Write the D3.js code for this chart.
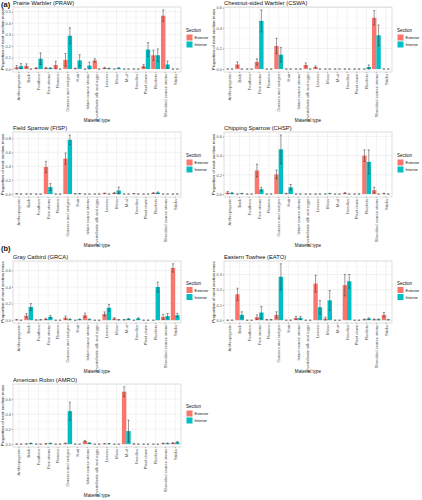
<!DOCTYPE html>
<html><head><meta charset="utf-8">
<script src="https://cdn.jsdelivr.net/npm/d3@7"></script>
<style>body{margin:0;background:#fff}svg{display:block;font-family:"Liberation Sans",Arial,sans-serif}</style>
</head><body><svg id="c" width="422" height="500"></svg>
<script>
const categories = ["Anthropogenic","Bark","Feathers","Fine stems","Flowers","Grasses and sedges","Hair","Intact coarse stems","Invertebrate silk and eggs","Leaves","Moss","Mud","Needles","Plant down","Rootlets","Shredded coarse stems","Sticks"];
const sections = ["Exterior","Interior"];
const sectionColors = ["#F8766D","#00BFC4"];
const panelTitles = ["Prairie Warbler (PRAW)","Chestnut-sided Warbler (CSWA)","Field Sparrow (FISP)","Chipping Sparrow (CHSP)","Gray Catbird (GRCA)","Eastern Towhee (EATO)","American Robin (AMRO)"];
const panelTags = ["(a)",null,null,null,"(b)",null,null];
const yTicks = [[0,0.1,0.2,0.3,0.4,0.5],[0,0.2,0.4,0.6],[0,0.2,0.4,0.6,0.8],[0,0.2,0.4,0.6],[0,0.2,0.4,0.6],[0,0.1,0.2,0.3],[0,0.2,0.4,0.6]];

// means and standard errors, [Exterior, Interior]
const prawExt = [0.015,0.028,0.008,0.01,0.035,0.08,0.005,0,0.075,0.01,0,0,0,0.025,0.12,0.465,0];
const prawExtSe = [0.015,0.017,0.005,0.005,0.033,0.055,0.003,0,0.015,0.005,0,0,0,0.015,0.045,0.05,0];
const prawInt = [0.025,0,0.09,0.008,0,0.29,0.075,0.03,0,0.005,0.008,0,0,0.17,0.12,0.04,0];
const prawIntSe = [0.022,0,0.05,0.005,0,0.07,0.05,0.03,0,0.003,0.005,0,0,0.06,0.055,0.03,0];

const cswaExt = [0,0.045,0,0.07,0,0.225,0,0,0.04,0.02,0,0,0,0,0,0.5,0];
const cswaExtSe = [0,0.025,0,0.03,0,0.075,0,0,0.02,0.01,0,0,0,0,0,0.07,0];
const cswaInt = [0,0,0,0.47,0,0.14,0,0,0,0,0,0,0,0,0.02,0.33,0];
const cswaIntSe = [0,0,0,0.107,0,0.07,0,0,0,0,0,0,0,0,0.02,0.1,0];

const fispExt = [0.003,0,0,0.39,0,0.51,0.003,0,0,0.01,0.015,0,0.005,0,0.015,0,0];
const fispExtSe = [0.002,0,0,0.08,0,0.08,0.002,0,0,0.005,0.008,0,0.003,0,0.006,0,0];
const fispInt = [0,0,0,0.1,0,0.78,0.005,0,0,0,0.05,0,0,0,0.02,0,0];
const fispIntSe = [0,0,0,0.05,0,0.07,0.003,0,0,0,0.05,0,0,0,0.01,0,0];

const chspExt = [0.015,0,0,0.245,0,0.205,0.005,0,0,0,0,0,0.01,0,0.4,0.04,0.005];
const chspExtSe = [0.012,0,0,0.065,0,0.045,0.003,0,0,0,0,0,0.005,0,0.06,0.03,0.003];
const chspInt = [0.01,0.005,0,0.05,0,0.465,0.07,0,0,0,0.005,0,0,0,0.335,0,0];
const chspIntSe = [0.007,0.003,0,0.02,0,0.15,0.03,0,0,0,0.003,0,0,0,0.125,0,0];

const grcaExt = [0.005,0.055,0.003,0.015,0,0.03,0,0.06,0,0.075,0.02,0.005,0,0,0,0.04,0.63];
const grcaExtSe = [0.003,0.025,0.002,0.008,0,0.02,0,0.025,0,0.025,0.01,0.003,0,0,0,0.03,0.05];
const grcaInt = [0,0.16,0.005,0.04,0,0.01,0.01,0.01,0,0.15,0.005,0.015,0.02,0,0.4,0.05,0.06];
const grcaIntSe = [0,0.04,0.003,0.015,0,0.005,0.005,0.005,0,0.04,0.003,0.005,0.008,0,0.06,0.03,0.02];

const eatoExt = [0,0.17,0,0.02,0.003,0.035,0,0.015,0,0.24,0.01,0,0.23,0,0.005,0.005,0.035];
const eatoExtSe = [0,0.04,0,0.015,0.002,0.02,0,0.01,0,0.055,0.01,0,0.07,0,0.003,0.003,0.015];
const eatoInt = [0,0.035,0,0.05,0.003,0.285,0,0.015,0,0.085,0.13,0,0.255,0,0.01,0.005,0.003];
const eatoIntSe = [0,0.02,0,0.04,0.002,0.085,0,0.01,0,0.045,0.065,0,0.045,0,0.005,0.003,0.002];

const amroExt = [0,0.003,0,0.005,0,0.01,0,0.04,0,0.005,0,0.7,0.003,0,0,0.01,0.015];
const amroExtSe = [0,0.002,0,0.003,0,0.005,0,0.01,0,0.003,0,0.065,0.002,0,0,0.005,0.005];
const amroInt = [0,0.01,0,0.01,0,0.44,0,0.015,0,0.005,0,0.175,0,0,0,0.01,0.025];
const amroIntSe = [0,0.005,0,0.005,0,0.12,0,0.005,0,0.003,0,0.145,0,0,0,0.005,0.01];

const panelData = [
  [[prawExt,prawExtSe],[prawInt,prawIntSe]],
  [[cswaExt,cswaExtSe],[cswaInt,cswaIntSe]],
  [[fispExt,fispExtSe],[fispInt,fispIntSe]],
  [[chspExt,chspExtSe],[chspInt,chspIntSe]],
  [[grcaExt,grcaExtSe],[grcaInt,grcaIntSe]],
  [[eatoExt,eatoExtSe],[eatoInt,eatoIntSe]],
  [[amroExt,amroExtSe],[amroInt,amroIntSe]]
];

const FONT = "Liberation Sans, Arial, sans-serif";
const cols = [[13,181],[224,392]];
const rows = [[7,72],[132,197],[261,323],[384,447]];
const svg = d3.select("#c");

panelData.forEach((pd, p) => {
  const col = cols[p % 2], row = rows[Math.floor(p / 2)];
  const g = svg.append("g");
  const n = categories.length;
  const x = d3.scaleLinear().domain([-0.6, n - 1 + 0.6]).range(col);
  const step = x(1) - x(0);
  const maxUp = d3.max(pd.flatMap(([m, s]) => m.map((v, i) => v + s[i])));
  const y = d3.scaleLinear().domain([-0.05 * maxUp, maxUp * 1.05]).range([row[1], row[0]]);

  // grid
  const ticks = yTicks[p];
  const minor = ticks.slice(0, -1).map((t, i) => (t + ticks[i + 1]) / 2);
  const last = ticks[ticks.length - 1], d = ticks[1] - ticks[0];
  if (last + d / 2 < y.domain()[1]) minor.push(last + d / 2);
  g.selectAll(".mn").data(minor).join("line")
    .attr("x1", col[0]).attr("x2", col[1]).attr("y1", d => y(d)).attr("y2", d => y(d))
    .attr("stroke", "#f0f0f0").attr("stroke-width", 0.3);
  g.selectAll(".mj").data(ticks).join("line")
    .attr("x1", col[0]).attr("x2", col[1]).attr("y1", d => y(d)).attr("y2", d => y(d))
    .attr("stroke", "#e5e5e5").attr("stroke-width", 0.5);
  g.selectAll(".vx").data(categories).join("line")
    .attr("x1", (d, i) => x(i)).attr("x2", (d, i) => x(i)).attr("y1", row[0]).attr("y2", row[1])
    .attr("stroke", "#e5e5e5").attr("stroke-width", 0.5);

  // bars
  const bw = step * 0.45;
  pd.forEach(([means, ses], s) => {
    const off = s === 0 ? -0.225 : 0.225;
    g.selectAll(".b" + s).data(means).join("rect")
      .attr("x", (v, i) => x(i + off) - bw / 2).attr("width", bw)
      .attr("y", v => y(v)).attr("height", v => y(0) - y(v))
      .attr("fill", sectionColors[s]);
  });
  pd.forEach(([means, ses], s) => {
    const off = s === 0 ? -0.225 : 0.225;
    const cw = step * 0.11;
    const eb = g.selectAll(".e" + s).data(means).join("g");
    eb.append("line").attr("x1", (v, i) => x(i + off)).attr("x2", (v, i) => x(i + off))
      .attr("y1", (v, i) => y(Math.max(0, v - ses[i]))).attr("y2", (v, i) => y(v + ses[i]))
      .attr("stroke", "#333").attr("stroke-width", 0.5);
    eb.append("line").attr("x1", (v, i) => x(i + off) - cw).attr("x2", (v, i) => x(i + off) + cw)
      .attr("y1", (v, i) => y(v + ses[i])).attr("y2", (v, i) => y(v + ses[i]))
      .attr("stroke", "#333").attr("stroke-width", 0.5);
    eb.append("line").attr("x1", (v, i) => x(i + off) - cw).attr("x2", (v, i) => x(i + off) + cw)
      .attr("y1", (v, i) => y(Math.max(0, v - ses[i]))).attr("y2", (v, i) => y(Math.max(0, v - ses[i])))
      .attr("stroke", "#333").attr("stroke-width", 0.5);
  });

  // border
  g.append("rect").attr("x", col[0]).attr("y", row[0]).attr("width", col[1] - col[0]).attr("height", row[1] - row[0])
    .attr("fill", "none").attr("stroke", "#bdbdbd").attr("stroke-width", 0.5);

  // y axis
  const ya = g.append("g").attr("transform", `translate(${col[0]},0)`)
    .call(d3.axisLeft(y).tickValues(ticks).tickFormat(d3.format(".1f")).tickSize(1.2).tickPadding(0.8));
  ya.attr("font-family", FONT);
  ya.select(".domain").remove();
  ya.selectAll("line").attr("stroke", "#333").attr("stroke-width", 0.4);
  ya.selectAll("text").attr("font-size", 3.9).attr("fill", "#4d4d4d");

  // x axis
  const xb = d3.scaleBand().domain(categories).range([x(-0.5), x(n - 0.5)]);
  const xa = g.append("g").attr("transform", `translate(0,${row[1]})`)
    .call(d3.axisBottom(xb).tickSize(1.2).tickPadding(0.8));
  xa.attr("font-family", FONT);
  xa.select(".domain").remove();
  xa.selectAll("line").attr("stroke", "#333").attr("stroke-width", 0.4);
  xa.selectAll("text").attr("font-size", 4.1).attr("fill", "#4d4d4d")
    .attr("transform", "rotate(-90)").attr("text-anchor", "end")
    .attr("x", -2).attr("y", 0).attr("dy", "0.35em");

  // titles
  g.append("text").attr("x", col[0]).attr("y", row[0] - 2).attr("font-size", 5.8).attr("fill", "#111").text(panelTitles[p]);
  if (panelTags[p]) g.append("text").attr("x", 1).attr("y", p === 0 ? 7 : 251).attr("font-size", 7.5).attr("font-weight", "bold").attr("fill", "#111").text(panelTags[p]);
  g.append("text").attr("x", (col[0] + col[1]) / 2).attr("y", row[1] + 50).attr("text-anchor", "middle")
    .attr("font-size", 4.6).attr("fill", "#111").text("Material type");
  g.append("text").attr("transform", `translate(${col[0] - 9.5},${(row[0] + row[1]) / 2}) rotate(-90)`)
    .attr("text-anchor", "middle").attr("font-size", 4.4).attr("fill", "#111").text("Proportion of nest section mass");

  // legend
  const lg = g.append("g").attr("transform", `translate(${col[1] + 5},${(row[0] + row[1]) / 2 - 9})`);
  lg.append("text").attr("x", 0).attr("y", 1.5).attr("font-size", 4.5).attr("fill", "#111").text("Section");
  sections.forEach((s, i) => {
    lg.append("rect").attr("x", 0.5).attr("y", 4 + i * 7).attr("width", 6).attr("height", 6).attr("fill", sectionColors[i]);
    lg.append("text").attr("x", 8.5).attr("y", 8.5 + i * 7).attr("font-size", 4).attr("fill", "#111").text(s);
  });
});
</script></body></html>
